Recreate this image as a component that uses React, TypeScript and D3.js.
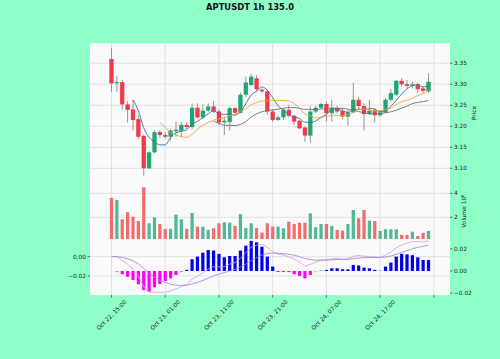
import { useEffect, useRef } from "react";
import * as d3 from "d3";

const TITLE = "APTUSDT 1h 135.0";

// candles, one per hour from Oct 22 15:00
const opens = [
  3.36, 3.302, 3.305, 3.252, 3.24, 3.217, 3.177, 3.1, 3.138, 3.186,
  3.179, 3.175, 3.188, 3.189, 3.203, 3.198, 3.244, 3.221, 3.237, 3.247,
  3.235, 3.209, 3.21, 3.243, 3.232, 3.275, 3.298, 3.314, 3.287, 3.283,
  3.235, 3.215, 3.221, 3.239, 3.225, 3.213, 3.197, 3.178, 3.235, 3.244,
  3.253, 3.231, 3.243, 3.236, 3.223, 3.233, 3.263, 3.248, 3.229, 3.237,
  3.226, 3.233, 3.263, 3.275, 3.308, 3.3, 3.297, 3.3, 3.29, 3.283,
];
const highs = [
  3.386, 3.32, 3.31, 3.26, 3.263, 3.227, 3.18, 3.14, 3.19, 3.19,
  3.185, 3.194, 3.211, 3.21, 3.21, 3.254, 3.254, 3.252, 3.254, 3.26,
  3.24, 3.223, 3.247, 3.246, 3.28, 3.318, 3.325, 3.322, 3.29, 3.287,
  3.239, 3.225, 3.243, 3.251, 3.227, 3.215, 3.199, 3.248, 3.248, 3.255,
  3.259, 3.263, 3.248, 3.243, 3.239, 3.304, 3.269, 3.255, 3.263, 3.243,
  3.239, 3.267, 3.288, 3.31, 3.314, 3.31, 3.306, 3.304, 3.294, 3.326,
];
const lows = [
  3.282, 3.282, 3.239, 3.209, 3.19, 3.169, 3.082, 3.098, 3.135, 3.172,
  3.17, 3.166, 3.175, 3.175, 3.193, 3.193, 3.218, 3.218, 3.234, 3.232,
  3.203, 3.179, 3.19, 3.228, 3.23, 3.27, 3.295, 3.284, 3.28, 3.227,
  3.211, 3.213, 3.215, 3.221, 3.203, 3.193, 3.163, 3.161, 3.231, 3.242,
  3.211, 3.211, 3.231, 3.217, 3.201, 3.231, 3.239, 3.19, 3.227, 3.209,
  3.223, 3.231, 3.259, 3.271, 3.294, 3.29, 3.29, 3.279, 3.279, 3.279,
];
const closes = [
  3.302, 3.305, 3.252, 3.239, 3.215, 3.175, 3.1, 3.138, 3.186, 3.179,
  3.175, 3.19, 3.192, 3.203, 3.198, 3.244, 3.221, 3.237, 3.247, 3.235,
  3.209, 3.213, 3.243, 3.232, 3.275, 3.304, 3.318, 3.288, 3.283, 3.235,
  3.215, 3.221, 3.239, 3.225, 3.211, 3.195, 3.178, 3.235, 3.244, 3.253,
  3.231, 3.243, 3.235, 3.223, 3.233, 3.263, 3.248, 3.229, 3.237, 3.226,
  3.233, 3.263, 3.279, 3.308, 3.3, 3.296, 3.3, 3.288, 3.284, 3.306,
];
// volume in units of 10^6
const volumes = [
  3.63, 3.44, 1.83, 2.42, 2.05, 1.69, 4.5, 1.5, 2.0, 1.44,
  1.03, 1.03, 2.22, 1.83, 1.03, 2.36, 1.22, 1.22, 0.94, 1.08,
  1.5, 1.58, 1.55, 1.28, 2.25, 1.1, 1.5, 1.1, 0.72, 1.5,
  1.22, 1.22, 1.08, 1.64, 1.44, 1.55, 1.55, 2.33, 1.17, 1.44,
  1.44, 1.28, 0.94, 0.89, 1.44, 2.61, 1.91, 2.61, 1.72, 1.69,
  0.86, 1.0, 1.0, 1.0, 0.53, 0.53, 0.8, 0.44, 0.7, 0.86,
];
const macdHist = [
  0, -0.0005, -0.003, -0.0052, -0.0082, -0.0121, -0.0173, -0.0188, -0.0148, -0.0118,
  -0.0091, -0.0067, -0.0036, -0.0006, 0.001, 0.0106, 0.013, 0.0166, 0.019, 0.0185,
  0.0155, 0.0124, 0.0136, 0.0136, 0.0185, 0.023, 0.0273, 0.026, 0.022, 0.013,
  0.004, -0.001, -0.001, -0.001, -0.003, -0.0045, -0.0067, -0.0036, -0.0003, 0.0003,
  0.001, 0.0024, 0.0024, 0.0015, 0.0015, 0.0055, 0.005, 0.003, 0.0024, 0.001,
  0.0002, 0.004, 0.0076, 0.013, 0.0155, 0.015, 0.0143, 0.0124, 0.01, 0.01,
];

const mavPeriods = [5, 10, 20];
const mavColors = ["#3b7190", "#f5a33c", "#6f6f6f"];

const xTickIndex = [0, 10, 20, 30, 40, 50, 60];
const xTickLabels = [
  "Oct 22, 15:00",
  "Oct 23, 01:00",
  "Oct 23, 11:00",
  "Oct 23, 21:00",
  "Oct 24, 07:00",
  "Oct 24, 17:00",
  "",
];
const priceTicks = [3.1, 3.15, 3.2, 3.25, 3.3, 3.35];
const volumeTicks = [2, 4];
const macdTicks = [-0.02, 0.0];
const histTicks = [-0.02, 0.0, 0.02];

const W = 500;
const H = 359;
const FONT = "DejaVu Sans, sans-serif";

const rolling = (arr: number[], n: number) =>
  arr.map((_, i) => (i < n - 1 ? null : d3.mean(arr.slice(i - n + 1, i + 1))));

const ewm = (arr: number[], span: number) => {
  const a = 2 / (span + 1);
  const out: number[] = [];
  arr.forEach((v, i) => out.push(i === 0 ? v : a * v + (1 - a) * out[i - 1]));
  return out;
};

export default function App() {
  const ref = useRef<SVGSVGElement>(null);

  useEffect(() => {
    if (!ref.current) return;
    const svg = d3.select(ref.current);
    svg.selectAll("*").remove();

    const left = 90;
    const right = 450;
    const top = 43;
    const priceBottom = 183;
    const volBottom = 239;
    const bottom = 295;

    const x = d3.scaleLinear().domain([-4, 63]).range([left, right]);
    const step = x(1) - x(0);
    const yPrice = d3.scaleLinear().domain([3.065, 3.398]).range([priceBottom, top]);
    const yVol = d3.scaleLinear().domain([0.19, 4.86]).range([volBottom, priceBottom]);
    const yHist = d3.scaleLinear().domain([-0.0218, 0.029]).range([bottom, volBottom]);
    const yMacd = d3.scaleLinear().domain([-0.0397, 0.0183]).range([bottom, volBottom]);

    svg.append("rect").attr("width", W).attr("height", H).attr("fill", "#8effc7");
    svg
      .append("rect")
      .attr("x", left)
      .attr("y", top)
      .attr("width", right - left)
      .attr("height", bottom - top)
      .attr("fill", "#fafafa");

    const defs = svg.append("defs");
    const clip = (id: string, y0: number, y1: number) =>
      defs
        .append("clipPath")
        .attr("id", id)
        .append("rect")
        .attr("x", left)
        .attr("y", y0)
        .attr("width", right - left)
        .attr("height", y1 - y0);
    clip("clip-price", top, priceBottom);
    clip("clip-vol", priceBottom, volBottom);
    clip("clip-macd", volBottom, bottom);

    // grid
    const grid = svg.append("g").attr("stroke", "#dadada").attr("stroke-width", 0.8);
    xTickIndex.forEach((t) => {
      grid.append("line").attr("x1", x(t)).attr("x2", x(t)).attr("y1", top).attr("y2", bottom);
    });
    const hGrid = (scale: d3.ScaleLinear<number, number>, ticks: number[]) =>
      ticks.forEach((t) => {
        grid.append("line").attr("x1", left).attr("x2", right).attr("y1", scale(t)).attr("y2", scale(t));
      });
    hGrid(yPrice, priceTicks);
    hGrid(yVol, volumeTicks);
    hGrid(yMacd, macdTicks);

    const up = "#1ea673";
    const down = "#f2394a";
    const idx = d3.range(closes.length);

    // candles
    const gPrice = svg.append("g").attr("clip-path", "url(#clip-price)");
    const bodyW = step * 0.8;
    idx.forEach((i) => {
      const isUp = closes[i] >= opens[i];
      gPrice
        .append("line")
        .attr("x1", x(i))
        .attr("x2", x(i))
        .attr("y1", yPrice(highs[i]))
        .attr("y2", yPrice(lows[i]))
        .attr("stroke", "#8a8a8a")
        .attr("stroke-width", 0.9);
      const y0 = yPrice(Math.max(opens[i], closes[i]));
      const y1 = yPrice(Math.min(opens[i], closes[i]));
      gPrice
        .append("rect")
        .attr("x", x(i) - bodyW / 2)
        .attr("y", y0)
        .attr("width", bodyW)
        .attr("height", Math.max(0.9, y1 - y0))
        .attr("fill", isUp ? up : down);
    });

    // moving averages
    mavPeriods.forEach((p, k) => {
      const ma = rolling(closes, p);
      const line = d3
        .line<number>()
        .defined((i) => ma[i] != null)
        .x((i) => x(i))
        .y((i) => yPrice(ma[i] as number))
        .curve(d3.curveMonotoneX);
      gPrice
        .append("path")
        .attr("d", line(idx))
        .attr("fill", "none")
        .attr("stroke", mavColors[k])
        .attr("stroke-width", 0.9);
    });

    // volume
    const gVol = svg.append("g").attr("clip-path", "url(#clip-vol)");
    const volW = step * 0.6;
    idx.forEach((i) => {
      const isUp = closes[i] >= opens[i];
      gVol
        .append("rect")
        .attr("x", x(i) - volW / 2)
        .attr("y", yVol(volumes[i]))
        .attr("width", volW)
        .attr("height", yVol(0) - yVol(volumes[i]))
        .attr("fill", isUp ? "#4fb894" : "#f26c6c");
    });

    // macd
    const gMacd = svg.append("g").attr("clip-path", "url(#clip-macd)");
    idx.forEach((i) => {
      const v = macdHist[i];
      gMacd
        .append("rect")
        .attr("x", x(i) - volW / 2)
        .attr("y", Math.min(yHist(v), yHist(0)))
        .attr("width", volW)
        .attr("height", Math.abs(yHist(v) - yHist(0)))
        .attr("fill", v >= 0 ? "#0000f0" : "#ff00ff");
    });
    const ema12 = ewm(closes, 12);
    const ema26 = ewm(closes, 26);
    const macd = ema12.map((v, i) => v - ema26[i]);
    const signal = ewm(macd, 9);
    [
      [macd, "#d99bdc"],
      [signal, "#8f85dc"],
    ].forEach(([series, color]) => {
      const s = series as number[];
      gMacd
        .append("path")
        .attr(
          "d",
          d3
            .line<number>()
            .x((i) => x(i))
            .y((i) => yMacd(s[i]))(idx)
        )
        .attr("fill", "none")
        .attr("stroke", color as string)
        .attr("stroke-width", 0.8);
    });

    // axes
    const tickColor = "#222";
    const fs = 5.8;
    const axes = svg.append("g").attr("font-family", FONT).attr("font-size", fs).attr("fill", tickColor);

    const rightTicks = (scale: d3.ScaleLinear<number, number>, ticks: number[], fmt: (d: number) => string) =>
      ticks.forEach((t) => {
        axes
          .append("line")
          .attr("x1", right)
          .attr("x2", right + 2.5)
          .attr("y1", scale(t))
          .attr("y2", scale(t))
          .attr("stroke", tickColor)
          .attr("stroke-width", 0.6);
        axes
          .append("text")
          .attr("x", right + 4)
          .attr("y", scale(t))
          .attr("dy", "0.35em")
          .text(fmt(t));
      });
    rightTicks(yPrice, priceTicks, d3.format(".2f"));
    rightTicks(yVol, volumeTicks, d3.format("d"));
    rightTicks(yHist, histTicks, d3.format(".2f"));

    macdTicks.forEach((t) => {
      axes
        .append("line")
        .attr("x1", left - 2.5)
        .attr("x2", left)
        .attr("y1", yMacd(t))
        .attr("y2", yMacd(t))
        .attr("stroke", tickColor)
        .attr("stroke-width", 0.6);
      axes
        .append("text")
        .attr("x", left - 4)
        .attr("y", yMacd(t))
        .attr("dy", "0.35em")
        .attr("text-anchor", "end")
        .text(d3.format(".2f")(t));
    });

    xTickIndex.forEach((t, k) => {
      axes
        .append("line")
        .attr("x1", x(t))
        .attr("x2", x(t))
        .attr("y1", bottom)
        .attr("y2", bottom + 2.5)
        .attr("stroke", tickColor)
        .attr("stroke-width", 0.6);
      if (xTickLabels[k]) {
        axes
          .append("text")
          .attr("transform", `translate(${x(t)},${bottom + 20}) rotate(-45)`)
          .attr("text-anchor", "middle")
          .attr("dy", "0.35em")
          .text(xTickLabels[k]);
      }
    });

    axes
      .append("text")
      .attr("transform", `translate(474,${(top + priceBottom) / 2}) rotate(-90)`)
      .attr("text-anchor", "middle")
      .attr("dy", "0.35em")
      .text("Price");
    const volLabel = axes
      .append("text")
      .attr("transform", `translate(464,${(priceBottom + volBottom) / 2}) rotate(-90)`)
      .attr("text-anchor", "middle")
      .attr("dy", "0.35em");
    volLabel.append("tspan").text("Volume  10");
    volLabel.append("tspan").attr("font-size", fs * 0.7).attr("dy", "-0.6em").text("6");

    svg
      .append("text")
      .attr("x", W / 2)
      .attr("y", 9.5)
      .attr("text-anchor", "middle")
      .attr("font-family", FONT)
      .attr("font-weight", "bold")
      .attr("font-size", 8.4)
      .attr("fill", "#111")
      .text(TITLE);
  }, []);

  return (
    <svg
      ref={ref}
      width={W}
      height={H}
      style={{ position: "absolute", left: 0, top: 0, display: "block" }}
    />
  );
}
